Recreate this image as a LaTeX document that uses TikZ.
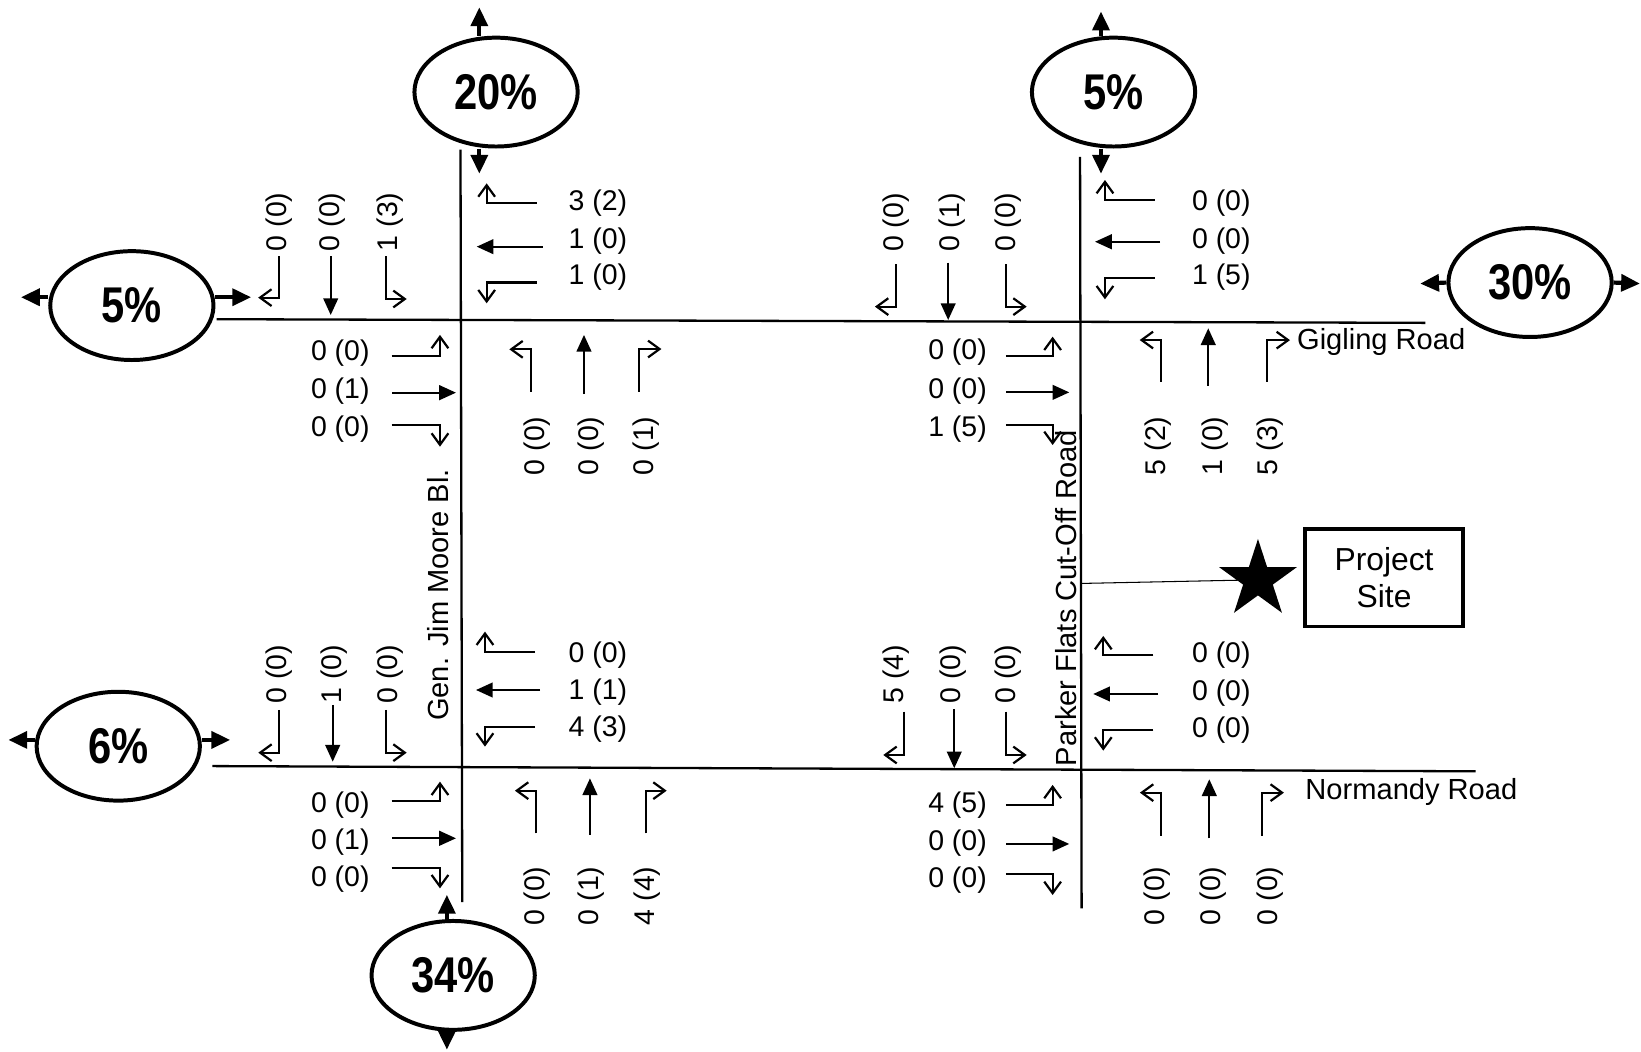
\documentclass[tikz,border=0pt]{standalone}
\usepackage{fontspec}
\usepackage{graphicx}
\setmainfont{Liberation Sans}
\usetikzlibrary{arrows.meta,shapes.geometric}
\begin{document}
\begin{tikzpicture}[x=0.5pt,y=-0.5pt,
  road/.style={line width=1.1pt},
  thr/.style={line width=1.05pt,-{Triangle[length=8pt,width=7pt]}},
  trn/.style={line width=1.05pt,-{Straight Barb[length=5.5pt,width=8pt]}},
  big/.style={line width=2pt,-{Triangle[length=9pt,width=8pt]}},
  cnt/.style={inner sep=0pt,font=\fontsize{13.6}{16}\selectfont},
  rl/.style={inner sep=0pt,font=\fontsize{13.9}{16}\selectfont},
  vcnt/.style={cnt,rotate=90},
  ecnt/.style={cnt,anchor=east},
  wcnt/.style={cnt,anchor=west},
  pct/.style={ellipse,draw,line width=1.9pt,minimum width=78pt,minimum height=52pt,inner sep=0pt,font=\fontsize{24}{28}\selectfont\bfseries},
]
\useasboundingbox (0,0) rectangle (1568,1005);

% roads
\draw[road] (207,305) -- (1362,308.5);
\draw[road] (203,732) -- (1410,737);
\draw[road] (440,143) -- (441.7,862);
\draw[road] (1032,150) -- (1033.5,868);

\node[rl,anchor=west] (gig) at (1239,327) {Gigling Road};
\node[rl,anchor=west] (nor) at (1247,757) {Normandy Road};
\node[rl,rotate=90] (gjm) at (419,568.5) {Gen. Jim Moore Bl.};
\node[rl,rotate=90] (pfc) at (1019,571.7) {Parker Flats Cut-Off Road};

% ellipses
\node[pct] (e20) at (474,88) {\scalebox{0.83}[1]{20\%}};
\node[pct] (e5t) at (1064,88) {\scalebox{0.83}[1]{5\%}};
\node[pct] (e30) at (1462,270) {\scalebox{0.83}[1]{30\%}};
\node[pct] (e5l) at (126,292) {\scalebox{0.83}[1]{5\%}};
\node[pct] (e6) at (113,713) {\scalebox{0.83}[1]{6\%}};
\node[pct] (e34) at (433,932) {\scalebox{0.83}[1]{34\%}};

\coordinate (e20u) at (458,7);
\coordinate (e20d) at (458,166);
\draw[big] ([xshift=-8pt]e20.north) -- (e20u);
\draw[big] ([xshift=-8pt]e20.south) -- (e20d);
\coordinate (e5tu) at (1052,11);
\coordinate (e5td) at (1052,166);
\draw[big] ([xshift=-6pt]e5t.north) -- (e5tu);
\draw[big] ([xshift=-6pt]e5t.south) -- (e5td);
\coordinate (e30l) at (1357,271);
\coordinate (e30r) at (1567,271);
\draw[big] (e30.west) -- (e30l);
\draw[big] (e30.east) -- (e30r);
\coordinate (e5ll) at (20,284);
\coordinate (e5lr) at (240,284);
\draw[big] ([yshift=4pt]e5l.west) -- (e5ll);
\draw[big] ([yshift=4pt]e5l.east) -- (e5lr);
\coordinate (e6l) at (8,707);
\coordinate (e6r) at (220,707);
\draw[big] ([yshift=3pt]e6.west) -- (e6l);
\draw[big] ([yshift=3pt]e6.east) -- (e6r);
\coordinate (e34u) at (427,855);
\coordinate (e34d) at (427,1003);
\draw[big] ([xshift=-3pt]e34.north) -- (e34u);
\draw[big] ([xshift=-3pt]e34.south) -- (e34d);

% project site
\coordinate (pl) at (1032.5,557.5);
\coordinate (stc) at (1202,554);
\draw[line width=0.5pt] (pl) -- (stc);
\node[star,star points=5,star point ratio=2.618,fill,draw=none,inner sep=0pt,minimum size=39pt] (st) at (stc) {};
\node[draw,line width=1.6pt,minimum width=75.5pt,minimum height=46.5pt,align=center,inner sep=0pt,font=\fontsize{15.2}{17.5}\selectfont] (ps) at (1322.5,552) {Project\\Site};

% ===== Intersection 1 =====
\draw[trn] (266.6,245) -- (266.6,284.4) -- (246.7,284.4);
\draw[thr] (316,245) -- (316,301);
\draw[trn] (368.8,245) -- (368.8,285.7) -- (388.6,285.7);
\node[vcnt] (a1) at (266.6,212) {0 (0)};
\node[vcnt] (a2) at (317,212) {0 (0)};
\node[vcnt] (a3) at (372.6,212) {1 (3)};

\draw[trn] (512.8,194.3) -- (465,194.3) -- (465,175.2);
\draw[thr] (518.5,235.7) -- (455.5,235.7);
\draw[trn] (512.8,270) -- (465,270) -- (465,289.8);
\node[wcnt] (a4) at (543,194) {3 (2)};
\node[wcnt] (a5) at (543,230) {1 (0)};
\node[wcnt] (a6) at (543,265) {1 (0)};

\draw[trn] (374.2,339.8) -- (420.4,339.8) -- (420.4,320);
\draw[thr] (375,375.2) -- (435.7,375.2);
\draw[trn] (374.2,406) -- (420.4,406) -- (420.4,426.8);
\node[ecnt] (a7) at (353.5,337) {0 (0)};
\node[ecnt] (a8) at (353.5,374) {0 (1)};
\node[ecnt] (a9) at (353.5,410) {0 (0)};

\draw[trn] (507.4,374.2) -- (507.4,333.8) -- (486.7,333.8);
\draw[thr] (558,376.5) -- (558,320);
\draw[trn] (610.9,374.2) -- (610.9,333.5) -- (632,333.5);
\node[vcnt] (a10) at (512.8,426) {0 (0)};
\node[vcnt] (a11) at (565,426) {0 (0)};
\node[vcnt] (a12) at (617,426) {0 (1)};

% ===== Intersection 2 =====
\draw[trn] (856.1,252.6) -- (856.1,293) -- (836,293);
\draw[thr] (906,251) -- (906,305.8);
\draw[trn] (961,252.6) -- (961,293) -- (981,293);
\node[vcnt] (b1) at (856.7,212.6) {0 (0)};
\node[vcnt] (b2) at (910,212.6) {0 (1)};
\node[vcnt] (b3) at (963.5,212.6) {0 (0)};

\draw[trn] (1103.6,191) -- (1055.8,191) -- (1055.8,172);
\draw[thr] (1108.4,231) -- (1046.3,231);
\draw[trn] (1103.6,266) -- (1055.8,266) -- (1055.8,286);
\node[wcnt] (b4) at (1138.6,194.3) {0 (0)};
\node[wcnt] (b5) at (1138.6,230) {0 (0)};
\node[wcnt] (b6) at (1138.6,264.4) {1 (5)};

\draw[trn] (961,339.8) -- (1005.8,339.8) -- (1005.8,321.7);
\draw[thr] (961.6,374.9) -- (1021.7,374.9);
\draw[trn] (961,406) -- (1005.8,406) -- (1005.8,425.2);
\node[ecnt] (b7) at (943.3,336) {0 (0)};
\node[ecnt] (b8) at (943.3,374) {0 (0)};
\node[ecnt] (b9) at (943.3,410) {1 (5)};

\draw[trn] (1109.3,364.7) -- (1109.3,324.9) -- (1089,324.9);
\draw[thr] (1154.5,368.8) -- (1154.5,313.7);
\draw[trn] (1211,364.7) -- (1211,325) -- (1232.6,325);
\node[vcnt] (b10) at (1106.7,426) {5 (2)};
\node[vcnt] (b11) at (1161,426) {1 (0)};
\node[vcnt] (b12) at (1213.5,426) {5 (3)};

% ===== Intersection 3 =====
\draw[trn] (266.9,678.4) -- (266.9,719.2) -- (246.8,719.2);
\draw[thr] (317.9,673.6) -- (317.9,727.8);
\draw[trn] (368.8,678.4) -- (368.8,719.2) -- (388.6,719.2);
\node[vcnt] (c1) at (266.9,644) {0 (0)};
\node[vcnt] (c2) at (319,644) {1 (0)};
\node[vcnt] (c3) at (372.6,644) {0 (0)};

\draw[trn] (511.2,622.7) -- (463.4,622.7) -- (463.4,603.5);
\draw[thr] (516,659.3) -- (454.8,659.3);
\draw[trn] (511.2,694.3) -- (463.4,694.3) -- (463.4,713.4);
\node[wcnt] (c4) at (543,625.8) {0 (0)};
\node[wcnt] (c5) at (543,660.9) {1 (1)};
\node[wcnt] (c6) at (543,696.8) {4 (3)};

\draw[trn] (374.2,765.3) -- (420.4,765.3) -- (420.4,746.9);
\draw[thr] (374.8,801) -- (435.7,801);
\draw[trn] (374.2,829.6) -- (420.4,829.6) -- (420.4,848.8);
\node[ecnt] (c7) at (353.5,769.1) {0 (0)};
\node[ecnt] (c8) at (353.5,804.2) {0 (1)};
\node[ecnt] (c9) at (353.5,840.2) {0 (0)};

\draw[trn] (512.1,796.2) -- (512.1,755.5) -- (492,755.5);
\draw[thr] (563.7,797.8) -- (563.7,743.7);
\draw[trn] (616.9,796.2) -- (616.9,755.5) -- (637,755.5);
\node[vcnt] (c10) at (512.8,856) {0 (0)};
\node[vcnt] (c11) at (565.3,856) {0 (1)};
\node[vcnt] (c12) at (617.9,856) {4 (4)};

% ===== Intersection 4 =====
\draw[trn] (864,680) -- (864,721.4) -- (844,721.4);
\draw[thr] (911.8,677.7) -- (911.8,734.1);
\draw[trn] (961,680) -- (961,721.4) -- (981,721.4);
\node[vcnt] (d1) at (856.7,644) {5 (4)};
\node[vcnt] (d2) at (910.3,644) {0 (0)};
\node[vcnt] (d3) at (963.4,644) {0 (0)};

\draw[trn] (1102,625.8) -- (1054.2,625.8) -- (1054.2,607.7);
\draw[thr] (1106.7,663.1) -- (1044.6,663.1);
\draw[trn] (1102,697.5) -- (1054.2,697.5) -- (1054.2,717.2);
\node[wcnt] (d4) at (1138.6,625.8) {0 (0)};
\node[wcnt] (d5) at (1138.6,662.4) {0 (0)};
\node[wcnt] (d6) at (1138.6,697.5) {0 (0)};

\draw[trn] (961,769.1) -- (1005.8,769.1) -- (1005.8,750);
\draw[thr] (961.6,806.4) -- (1021.7,806.4);
\draw[trn] (961,835.4) -- (1005.8,835.4) -- (1005.8,855.2);
\node[ecnt] (d7) at (943.3,769.1) {4 (5)};
\node[ecnt] (d8) at (943.3,805.2) {0 (0)};
\node[ecnt] (d9) at (943.3,840.8) {0 (0)};

\draw[trn] (1109.3,798.8) -- (1109.3,757.4) -- (1089.2,757.4);
\draw[thr] (1155.5,801) -- (1155.5,744.6);
\draw[trn] (1205.5,798.8) -- (1205.5,757.4) -- (1226.8,757.4);
\node[vcnt] (d10) at (1105.2,856) {0 (0)};
\node[vcnt] (d11) at (1159.3,856) {0 (0)};
\node[vcnt] (d12) at (1213.5,856) {0 (0)};
\end{tikzpicture}
\end{document}
